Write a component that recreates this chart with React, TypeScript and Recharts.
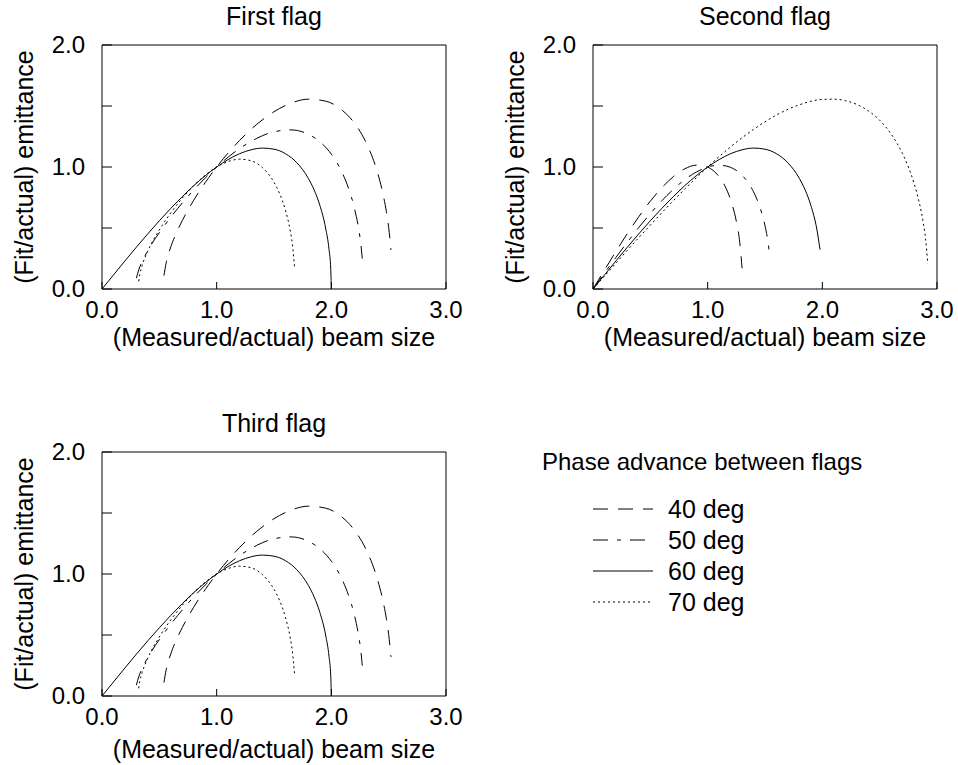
import { LineChart, Line, XAxis, YAxis, Legend } from "recharts";

type Pt = [number, number];

// axes
const X_TICKS = [0, 1, 2, 3];
const X_TICKS_TOP = [1, 2];
const Y_TICKS = [0, 0.5, 1, 1.5, 2];
const Y_TICKS_RIGHT = [0.5, 1, 1.5];

// first flag: (measured/actual beam size, fit/actual emittance)
const FIRST_40: Pt[] = [
  [0.54, 0.110], [0.56, 0.216], [0.6, 0.345], [0.65, 0.463], [0.7, 0.561], [0.8, 0.728],
  [0.9, 0.872], [1.0, 1.0], [1.1, 1.115], [1.2, 1.218], [1.35, 1.350], [1.5, 1.453],
  [1.65, 1.524], [1.8, 1.556], [1.95, 1.540], [2.1, 1.461], [2.2, 1.361], [2.3, 1.206],
  [2.4, 0.963], [2.45, 0.781], [2.48, 0.634], [2.5, 0.505], [2.52, 0.320],
];
const FIRST_50: Pt[] = [
  [0.30, 0.089], [0.32, 0.156], [0.35, 0.225], [0.4, 0.316], [0.5, 0.462], [0.6, 0.589],
  [0.7, 0.705], [0.8, 0.812], [0.9, 0.910], [1.0, 1.0], [1.1, 1.081], [1.2, 1.151],
  [1.35, 1.235], [1.5, 1.289], [1.65, 1.304], [1.8, 1.268], [1.9, 1.207], [2.0, 1.105],
  [2.1, 0.943], [2.15, 0.825], [2.2, 0.667], [2.24, 0.484], [2.255, 0.387], [2.27, 0.249],
];
const FIRST_60: Pt[] = [
  [0, 0], [0.1, 0.115], [0.2, 0.230], [0.3, 0.343], [0.4, 0.453], [0.5, 0.559], [0.6, 0.661],
  [0.7, 0.757], [0.8, 0.847], [0.9, 0.928], [1.0, 1.0], [1.1, 1.061], [1.2, 1.109],
  [1.3, 1.141], [1.4, 1.155], [1.5, 1.146], [1.6, 1.109], [1.7, 1.034], [1.8, 0.906],
  [1.85, 0.812], [1.9, 0.685], [1.95, 0.500], [1.98, 0.323], [1.995, 0.163], [2.0, 0],
];
const FIRST_70: Pt[] = [
  [0.32, 0.063], [0.33, 0.121], [0.35, 0.192], [0.4, 0.312], [0.5, 0.484], [0.6, 0.624],
  [0.7, 0.744], [0.8, 0.847], [0.9, 0.933], [1.0, 1.0], [1.1, 1.045], [1.2, 1.064],
  [1.3, 1.051], [1.4, 0.994], [1.5, 0.875], [1.55, 0.780], [1.6, 0.645], [1.64, 0.485],
  [1.66, 0.368], [1.68, 0.170],
];

// second flag
const SECOND_40: Pt[] = [
  [0, 0], [0.05, 0.078], [0.1, 0.155], [0.2, 0.308], [0.3, 0.455], [0.4, 0.593], [0.5, 0.720],
  [0.6, 0.830], [0.7, 0.920], [0.8, 0.985], [0.9, 1.015], [0.95, 1.014], [1.0, 1.0],
  [1.05, 0.970], [1.1, 0.920], [1.15, 0.845], [1.2, 0.731], [1.25, 0.554], [1.28, 0.380],
  [1.3, 0.170],
];
const SECOND_50: Pt[] = [
  [0, 0], [0.05, 0.065], [0.1, 0.130], [0.2, 0.259], [0.3, 0.384], [0.4, 0.505], [0.5, 0.618],
  [0.6, 0.723], [0.7, 0.816], [0.8, 0.896], [0.9, 0.958], [1.0, 1.0], [1.1, 1.015],
  [1.2, 0.997], [1.3, 0.932], [1.35, 0.876], [1.4, 0.797], [1.45, 0.686], [1.5, 0.519],
  [1.52, 0.422], [1.54, 0.284],
];
const SECOND_60: Pt[] = [
  [0, 0], [0.1, 0.115], [0.2, 0.230], [0.3, 0.343], [0.4, 0.453], [0.5, 0.559], [0.6, 0.661],
  [0.7, 0.757], [0.8, 0.847], [0.9, 0.928], [1.0, 1.0], [1.1, 1.061], [1.2, 1.109],
  [1.3, 1.141], [1.4, 1.155], [1.5, 1.146], [1.6, 1.109], [1.7, 1.034], [1.8, 0.906],
  [1.85, 0.812], [1.9, 0.685], [1.95, 0.500], [1.98, 0.323],
];
const SECOND_70: Pt[] = [
  [0, 0], [0.05, 0.053], [0.1, 0.106], [0.2, 0.212], [0.3, 0.318], [0.4, 0.422], [0.5, 0.524],
  [0.6, 0.625], [0.7, 0.723], [0.8, 0.819], [0.9, 0.911], [1.0, 1.0], [1.2, 1.165],
  [1.4, 1.308], [1.6, 1.426], [1.8, 1.510], [2.0, 1.554], [2.1, 1.556], [2.2, 1.544],
  [2.3, 1.513], [2.4, 1.461], [2.5, 1.383], [2.6, 1.270], [2.7, 1.108], [2.75, 1.001],
  [2.8, 0.866], [2.85, 0.689], [2.88, 0.544], [2.9, 0.414], [2.92, 0.206],
];

// third flag looks the same as the first one
const THIRD_40 = FIRST_40;
const THIRD_50 = FIRST_50;
const THIRD_60 = FIRST_60;
const THIRD_70 = FIRST_70;

const SERIES = [
  { key: "40", name: "40 deg", dash: "15 10" },
  { key: "50", name: "50 deg", dash: "15 9 4 9" },
  { key: "60", name: "60 deg", dash: undefined },
  { key: "70", name: "70 deg", dash: "2 3" },
];

const FONT = "'Liberation Sans', Arial, Helvetica, sans-serif";
const INK = "#000";
const TICK_FS = 24;
const LABEL_FS = 25;

// plot box inside a panel
const PLOT = { left: 102, top: 45, w: 344, h: 244 };
const PANEL_H = 360;
// recharts skips axes with zero size, so each axis keeps a 1px strip
const AX = 1;

const rows = (pts: Pt[]) => pts.map(([x, y]) => ({ x, y }));
const fmt = (v: number) => v.toFixed(1);

// ticks point inwards, labels only on whole numbers
function BottomTick({ x, y, payload }: any) {
  return (
    <g>
      <line x1={x} x2={x} y1={y} y2={y - 7} stroke={INK} />
      <text x={x} y={y + 29} textAnchor="middle" fontSize={TICK_FS} fill={INK}>{fmt(payload.value)}</text>
    </g>
  );
}
function TopTick({ x, y }: any) {
  return <line x1={x} x2={x} y1={y} y2={y + 7} stroke={INK} />;
}
function LeftTick({ x, y, payload }: any) {
  const whole = Number.isInteger(payload.value);
  return (
    <g>
      <line x1={x} x2={x + 10} y1={y} y2={y} stroke={INK} />
      {whole && (
        <text x={x - 17} y={y + 8} textAnchor="end" fontSize={TICK_FS} fill={INK}>{fmt(payload.value)}</text>
      )}
    </g>
  );
}
function RightTick({ x, y }: any) {
  return <line x1={x} x2={x - 10} y1={y} y2={y} stroke={INK} />;
}

function PhaseLegend() {
  return (
    <svg width={400} height={175} style={{ display: "block", fontFamily: FONT }}>
      <text x={12} y={23} fontSize={24} fill={INK}>Phase advance between flags</text>
      {SERIES.map((s, i) => {
        const y = 62 + i * 31;
        return (
          <g key={s.key}>
            <line x1={63} x2={123} y1={y} y2={y} stroke={INK} strokeDasharray={s.dash} />
            <text x={138} y={y + 9} fontSize={LABEL_FS} fill={INK}>{s.name}</text>
          </g>
        );
      })}
    </svg>
  );
}

type PanelProps = {
  left: number;
  top: number;
  width: number;
  title: string;
  curves: Record<string, Pt[]>;
  xLabelY: number;
  legend?: boolean;
};

function Panel({ left, top, width, title, curves, xLabelY, legend }: PanelProps) {
  const cx = PLOT.left + PLOT.w / 2;
  const cy = PLOT.top + PLOT.h / 2;
  return (
    <div style={{ position: "absolute", left, top, width, height: PANEL_H }}>
      <LineChart
        width={width}
        height={PANEL_H}
        margin={{
          top: PLOT.top - AX,
          left: PLOT.left - AX,
          right: width - PLOT.left - PLOT.w - AX,
          bottom: PANEL_H - PLOT.top - PLOT.h - AX,
        }}
      >
        <XAxis xAxisId="b" dataKey="x" type="number" domain={[0, 3]} ticks={X_TICKS} interval={0}
          height={AX} tickSize={0} tickMargin={0} tickLine={false} axisLine={{ stroke: INK }} tick={<BottomTick />} />
        <XAxis xAxisId="t" orientation="top" dataKey="x" type="number" domain={[0, 3]} ticks={X_TICKS_TOP} interval={0}
          height={AX} tickSize={0} tickMargin={0} tickLine={false} axisLine={{ stroke: INK }} tick={<TopTick />} />
        <YAxis yAxisId="l" type="number" domain={[0, 2]} ticks={Y_TICKS} interval={0}
          width={AX} tickSize={0} tickMargin={0} tickLine={false} axisLine={{ stroke: INK }} tick={<LeftTick />} />
        <YAxis yAxisId="r" orientation="right" type="number" domain={[0, 2]} ticks={Y_TICKS_RIGHT} interval={0}
          width={AX} tickSize={0} tickMargin={0} tickLine={false} axisLine={{ stroke: INK }} tick={<RightTick />} />

        {SERIES.map((s) => (
          <Line
            key={s.key}
            xAxisId="b"
            yAxisId="l"
            data={rows(curves[s.key])}
            dataKey="y"
            name={s.name}
            type="monotone"
            stroke={INK}
            strokeWidth={1}
            strokeDasharray={s.dash}
            dot={false}
            activeDot={false}
            isAnimationActive={false}
          />
        ))}

        {legend && (
          <Legend
            layout="vertical"
            align="center"
            verticalAlign="middle"
            wrapperStyle={{ left: 530, top: 40, width: 400, height: 175 }}
            content={() => <PhaseLegend />}
          />
        )}
      </LineChart>

      <svg
        width={width}
        height={PANEL_H}
        style={{ position: "absolute", left: 0, top: 0, pointerEvents: "none", fontFamily: FONT }}
      >
        <text x={cx} y={25} textAnchor="middle" fontSize={LABEL_FS} fill={INK}>{title}</text>
        <text x={cx} y={xLabelY} textAnchor="middle" fontSize={LABEL_FS} fill={INK}>(Measured/actual) beam size</text>
        <text x={33} y={cy} textAnchor="middle" fontSize={LABEL_FS} fill={INK}
          transform={`rotate(-90 33 ${cy})`}>(Fit/actual) emittance</text>
      </svg>
    </div>
  );
}

export default function App() {
  return (
    <div style={{ position: "absolute", left: 0, top: 0, width: 958, height: 765, background: "#fff", fontFamily: FONT }}>
      <Panel left={0} top={0} width={470} title="First flag" xLabelY={346}
        curves={{ "40": FIRST_40, "50": FIRST_50, "60": FIRST_60, "70": FIRST_70 }} />
      <Panel left={491} top={0} width={470} title="Second flag" xLabelY={346}
        curves={{ "40": SECOND_40, "50": SECOND_50, "60": SECOND_60, "70": SECOND_70 }} />
      <Panel left={0} top={407} width={958} title="Third flag" xLabelY={351} legend
        curves={{ "40": THIRD_40, "50": THIRD_50, "60": THIRD_60, "70": THIRD_70 }} />
    </div>
  );
}
